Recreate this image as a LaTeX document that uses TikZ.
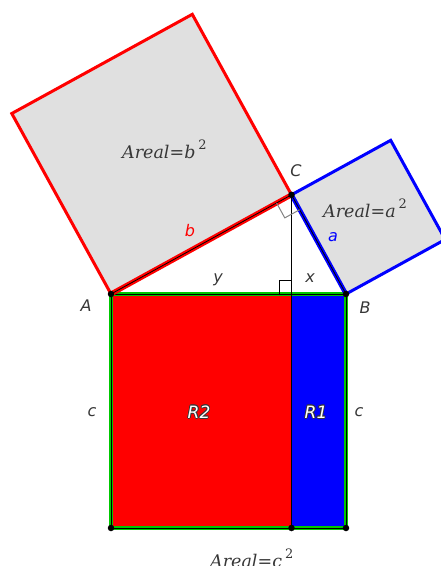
\documentclass[tikz,border=0pt]{standalone}
\usepackage{fontspec}
\usetikzlibrary{calc}
\newfontfamily\lblfont{DejaVu Sans}
\newfontfamily\arfont{DejaVu Serif}
\definecolor{sqgray}{RGB}{224,224,224}
\definecolor{ggreen}{RGB}{0,200,0}
\definecolor{txt}{RGB}{55,55,55}
\definecolor{markgray}{RGB}{130,130,130}
\tikzset{
  sqfill/.style={fill=sqgray},
  thickred/.style={draw=red, line width=3pt, line join=miter},
  thickblue/.style={draw=blue, line width=3pt, line join=miter},
  thin/.style={draw=black, line width=0.8pt},
  pt/.style={circle, fill=black, inner sep=0pt, minimum size=6.5pt},
  lbl/.style={text=txt, font=\lblfont\fontsize{16}{18}\selectfont\itshape, inner sep=0pt},
  arealbl/.style={text=txt, font=\arfont\fontsize{17.5}{20}\selectfont, inner sep=0pt, anchor=base west},
  rlbl/.style={font=\lblfont\fontsize{17}{19}\selectfont\itshape, inner sep=0pt}
}
\newcommand{\arealtxt}[1]{{\itshape Areal=#1}\hspace{3pt}\raisebox{8.5pt}{\fontsize{13}{15}\selectfont 2}}
\begin{document}
\begin{tikzpicture}[x=1pt,y=-1pt]
\useasboundingbox (0,0) rectangle (441,566);
\clip (0,0) rectangle (441,566);
% points
\coordinate (A) at (111,294);
\coordinate (B) at (346,294);
\coordinate (C) at (291.5,194.8);
\coordinate (H) at (291.5,294);
\coordinate (D) at (111,528);
\coordinate (E) at (346,528);
\coordinate (F) at (291.5,528);
\coordinate (Ab) at (11.8,113.5);
\coordinate (Cb) at (192.3,14.3);
\coordinate (Ca) at (390.7,140.3);
\coordinate (Ba) at (445.2,239.5);
% squares on legs
\fill[sqfill] (A) -- (Ab) -- (Cb) -- (C) -- cycle;
\fill[sqfill] (C) -- (Ca) -- (Ba) -- (B) -- cycle;
\draw[thickred] (A) -- (Ab) -- (Cb) -- (C);
\draw[thickblue] (C) -- (Ca) -- (Ba) -- (B);
% bottom rectangles
\fill[red] (A) rectangle (F);
\fill[blue] (H) rectangle (E);
\draw[ggreen, line width=4.5pt] (A) rectangle (E);
\draw[thin] (A) rectangle (E);
% triangle sides
\draw[red, line width=5pt] (A) -- (C);
\draw[blue, line width=4.5pt] (C) -- (B);
\draw[thin] (A) -- (C) -- (B);
% altitude
\draw[thin] (C) -- (F);
% right angle markers
\coordinate (m1) at ($(C)!17pt!(A)$);
\coordinate (m3) at ($(C)!17pt!(B)$);
\coordinate (m2) at ($(m1)+(m3)-(C)$);
\draw[markgray, line width=1pt] (m1) -- (m2) -- (m3);
\coordinate (h1) at ($(H)+(-12.5,0)$);
\coordinate (h2) at ($(H)+(-12.5,-14)$);
\coordinate (h3) at ($(H)+(0,-14)$);
\draw[thin] (h1) -- (h2) -- (h3);
% dots
\foreach \p/\n in {A/dA,B/dB,C/dC,D/dD,E/dE,F/dF}
  \node[pt] (\n) at (\p) {};
% labels
\node[lbl] (lA) at (86,306) {A};
\node[lbl] (lB) at (365,308) {B};
\node[lbl] (lC) at (296,171) {C};
\node[lbl, text=red] (lb) at (190,231) {b};
\node[lbl, text=blue] (la) at (333,237) {a};
\node[lbl] (ly) at (218,280) {y};
\node[lbl] (lx) at (310,278) {x};
\node[lbl] (lc1) at (92,412) {c};
\node[lbl] (lc2) at (359,412) {c};
% area labels
\node[arealbl] (arb) at (122,158) {\arealtxt{b}};
\node[arealbl] (ara) at (323,217) {\arealtxt{a}};
\node[arealbl] (arc) at (210,567) {\arealtxt{c}};
% outlined R labels
\foreach \dx/\dy [count=\i] in {-0.9/0,0.9/0,0/-0.9,0/0.9,-0.65/-0.65,0.65/0.65,-0.65/0.65,0.65/-0.65}{
  \node[rlbl, text=txt] (rtwo\i) at ($(199,412)+(\dx,\dy)$) {R2};
  \node[rlbl, text=txt] (rone\i) at ($(316,412)+(\dx,\dy)$) {R1};
}
\node[rlbl, text=white] (R2) at (199,412) {R2};
\node[rlbl, text=white] (R1) at (316,412) {R1};
\end{tikzpicture}
\end{document}
